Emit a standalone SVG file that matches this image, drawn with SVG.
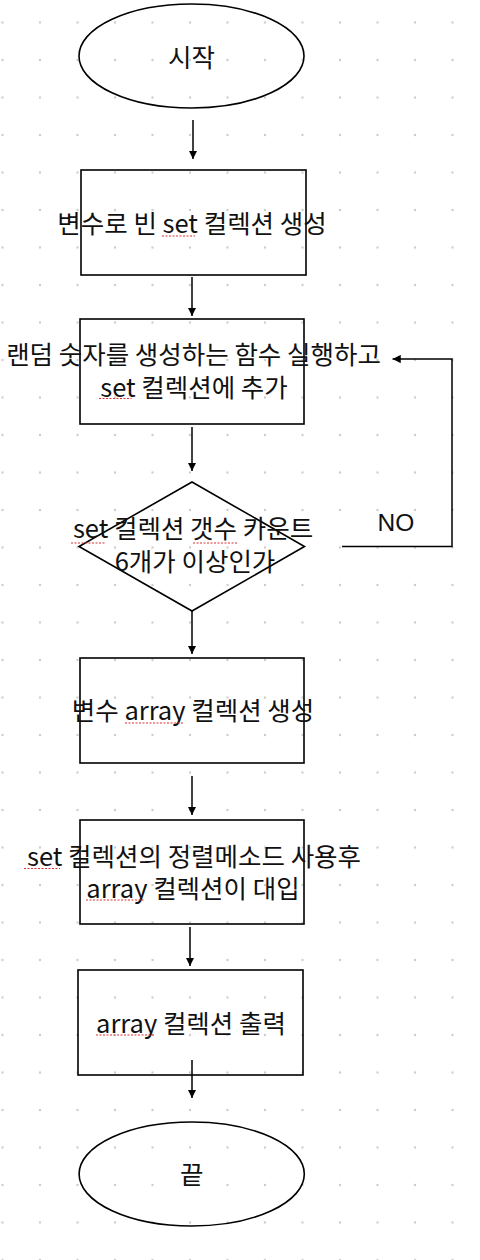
<svg xmlns="http://www.w3.org/2000/svg" width="480" height="1260" viewBox="0 0 480 1260">
<defs>
<pattern id="grid" x="-16.25" y="3.75" width="37.5" height="37.5" patternUnits="userSpaceOnUse">
<circle cx="18.75" cy="18.75" r="1.2" fill="#cccccc"/>
</pattern>
<marker id="arr" viewBox="0 0 10 10" refX="10" refY="5" markerWidth="5.5" markerHeight="5.5" markerUnits="strokeWidth" orient="auto">
<path d="M0,0 L10,5 L0,10 z" fill="#000"/>
</marker>
<style>
.shape{fill:none;stroke:#000;stroke-width:1.6}
.conn{fill:none;stroke:#000;stroke-width:1.5}
.t{font-family:"Noto Sans CJK KR","Noto Sans",sans-serif;font-size:25.5px;fill:#111;text-anchor:middle}
.sq{stroke:#e03030;stroke-width:1.2;stroke-dasharray:2,1.5;fill:none}
</style>
</defs>
<rect x="0" y="0" width="480" height="1260" fill="#fff"/>
<rect x="0" y="0" width="480" height="1260" fill="url(#grid)"/>

<g id="connectors">
<line class="conn" x1="193" y1="120" x2="193" y2="159" marker-end="url(#arr)"/>
<line class="conn" x1="192" y1="277" x2="192" y2="316" marker-end="url(#arr)"/>
<line class="conn" x1="192" y1="427" x2="192" y2="471" marker-end="url(#arr)"/>
<line class="conn" x1="192" y1="611" x2="192" y2="654" marker-end="url(#arr)"/>
<line class="conn" x1="192" y1="776" x2="192" y2="815" marker-end="url(#arr)"/>
<line class="conn" x1="190" y1="927" x2="190" y2="966" marker-end="url(#arr)"/>
<line class="conn" x1="192" y1="1060" x2="192" y2="1098" marker-end="url(#arr)"/>
<polyline class="conn" points="342,546.5 452,546.5 452,359 392.5,359" marker-end="url(#arr)"/>
</g>

<g id="start">
<ellipse class="shape" cx="191.5" cy="56" rx="112.5" ry="52"/>
<text class="t" x="191.5" y="67">시작</text>
</g>

<g id="create-set">
<rect class="shape" x="81" y="170" width="225" height="105"/>
<text class="t" x="192" y="233">변수로 빈 set 컬렉션 생성</text>
<line class="sq" x1="162" y1="236" x2="195" y2="236"/>
</g>

<g id="random-add">
<rect class="shape" x="80" y="319" width="224" height="105"/>
<text class="t"><tspan x="193.5" y="364">랜덤 숫자를 생성하는 함수 실행하고</tspan><tspan x="194" y="397">set 컬렉션에 추가</tspan></text>
<line class="sq" x1="99" y1="398.5" x2="131.5" y2="398.5"/>
</g>

<g id="check-count">
<polygon class="shape" points="192,482 304.5,546.5 192,611 79,546.5"/>
<text class="t"><tspan x="193" y="538">set 컬렉션 갯수 카운트</tspan><tspan x="195" y="571">6개가 이상인가</tspan></text>
<line class="sq" x1="71" y1="543" x2="106" y2="543"/>
<line class="sq" x1="193" y1="543" x2="238" y2="543"/>
<text style="font-family:'Liberation Sans',Arial,sans-serif;font-size:24.5px;fill:#111" x="377.5" y="530.5">NO</text>
</g>

<g id="create-array">
<rect class="shape" x="80" y="658" width="224" height="105"/>
<text class="t" x="193" y="720">변수 array 컬렉션 생성</text>
<line class="sq" x1="125" y1="723" x2="183" y2="723"/>
</g>

<g id="sort-assign">
<rect class="shape" x="80" y="820" width="224" height="104"/>
<text class="t"><tspan x="194" y="866">set 컬렉션의 정렬메소드 사용후</tspan><tspan x="193" y="898">array 컬렉션이 대입</tspan></text>
<line class="sq" x1="24" y1="868.5" x2="60" y2="868.5"/>
<line class="sq" x1="86" y1="900" x2="143.5" y2="900"/>
</g>

<g id="print-array">
<rect class="shape" x="78" y="970" width="225" height="105"/>
<text class="t" x="191" y="1033">array 컬렉션 출력</text>
<line class="sq" x1="96" y1="1035" x2="154" y2="1035"/>
</g>

<g id="end">
<ellipse class="shape" cx="191.7" cy="1174" rx="112.6" ry="52"/>
<text class="t" x="191.7" y="1184">끝</text>
</g>
</svg>
